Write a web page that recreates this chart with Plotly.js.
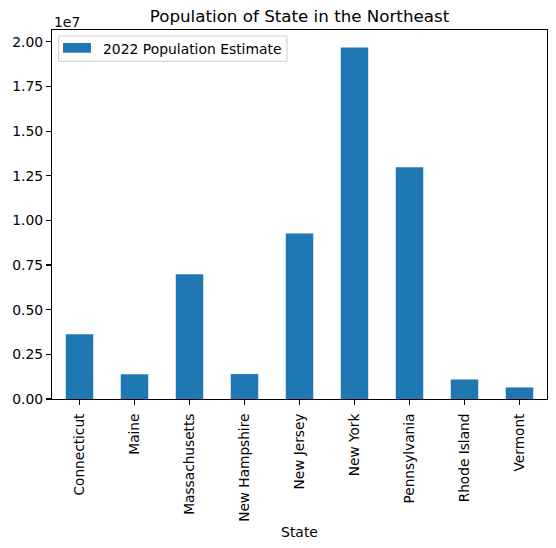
<!DOCTYPE html>
<html>
<head>
<meta charset="utf-8">
<script src="https://cdn.plot.ly/plotly-3.0.1.min.js"></script>
<style>html,body{margin:0;padding:0;background:#fff;}</style>
</head>
<body>
<div id="chart" style="width:556px;height:548px;"></div>
<script>
const states = ["Connecticut","Maine","Massachusetts","New Hampshire","New Jersey","New York","Pennsylvania","Rhode Island","Vermont"];
const population = [3626205,1385340,6981974,1395231,9261699,19677151,12972008,1093734,647064];
const yTickVals = [0,2500000,5000000,7500000,10000000,12500000,15000000,17500000,20000000];
const yTickText = ["0.00","0.25","0.50","0.75","1.00","1.25","1.50","1.75","2.00"];
const seriesName = "2022 Population Estimate";
const barColor = "#1f77b4";

const font = "DejaVu Sans, sans-serif";
const W = 556, H = 548;
const M = {l: 52, r: 9, t: 30, b: 149};
const pw = W - M.l - M.r, ph = H - M.t - M.b;
const px = v => (v - M.l) / pw;          // pixel x -> paper x
const py = v => (H - M.b - v) / ph;      // pixel y -> paper y

const trace = {
  type: "bar",
  x: states,
  y: population,
  name: seriesName,
  width: 0.5,
  marker: {color: barColor, line: {width: 0}},
  showlegend: false
};
const layout = {
  width: W, height: H,
  margin: M,
  paper_bgcolor: "#fff", plot_bgcolor: "#fff",
  font: {family: font, size: 13.9, color: "#000"},
  showlegend: false,
  title: {text: "Population of State in the Northeast", font: {family: font, size: 16.7, color: "#000"},
          xref: "paper", x: 0.5, xanchor: "center", yref: "paper", y: 1, yanchor: "bottom", pad: {b: 8}},
  xaxis: {
    type: "category", range: [-0.5, 8.5],
    showline: true, linecolor: "#000", linewidth: 1.1, mirror: true,
    ticks: "outside", ticklen: 5, tickwidth: 1.1, tickcolor: "#000",
    tickangle: -90, showgrid: false, zeroline: false, ticklabelstandoff: 3,
    tickfont: {family: font, size: 13.7, color: "#000"},
    title: {text: "State", font: {family: font, size: 13.9, color: "#000"}, standoff: 6}
  },
  yaxis: {
    range: [0, 20660008],
    showline: true, linecolor: "#000", linewidth: 1.1, mirror: true,
    ticks: "outside", ticklen: 5, tickwidth: 1.1, tickcolor: "#000",
    tickvals: yTickVals, ticktext: yTickText,
    showgrid: false, zeroline: false,
    tickfont: {family: font, size: 13.9, color: "#000"}
  },
  shapes: [
    {type: "rect", xref: "paper", yref: "paper", x0: px(58.7), x1: px(287), y0: py(61.3), y1: py(36),
     line: {color: "#cccccc", width: 1}, fillcolor: "rgba(255,255,255,0.8)", layer: "above"},
    {type: "rect", xref: "paper", yref: "paper", x0: px(63), x1: px(91), y0: py(52.7), y1: py(43),
     line: {width: 0}, fillcolor: barColor, layer: "above"}
  ],
  annotations: [
    {text: "1e7", xref: "paper", yref: "paper", x: 0, y: 1, xanchor: "left", yanchor: "bottom",
     showarrow: false, font: {family: font, size: 13.9, color: "#000"}, yshift: -2},
    {text: seriesName, xref: "paper", yref: "paper", x: px(101), y: py(48.5), xanchor: "left", yanchor: "middle",
     showarrow: false, font: {family: font, size: 13.9, color: "#000"}}
  ]
};
Plotly.newPlot("chart", [trace], layout, {displayModeBar: false, staticPlot: true});
</script>
</body>
</html>
